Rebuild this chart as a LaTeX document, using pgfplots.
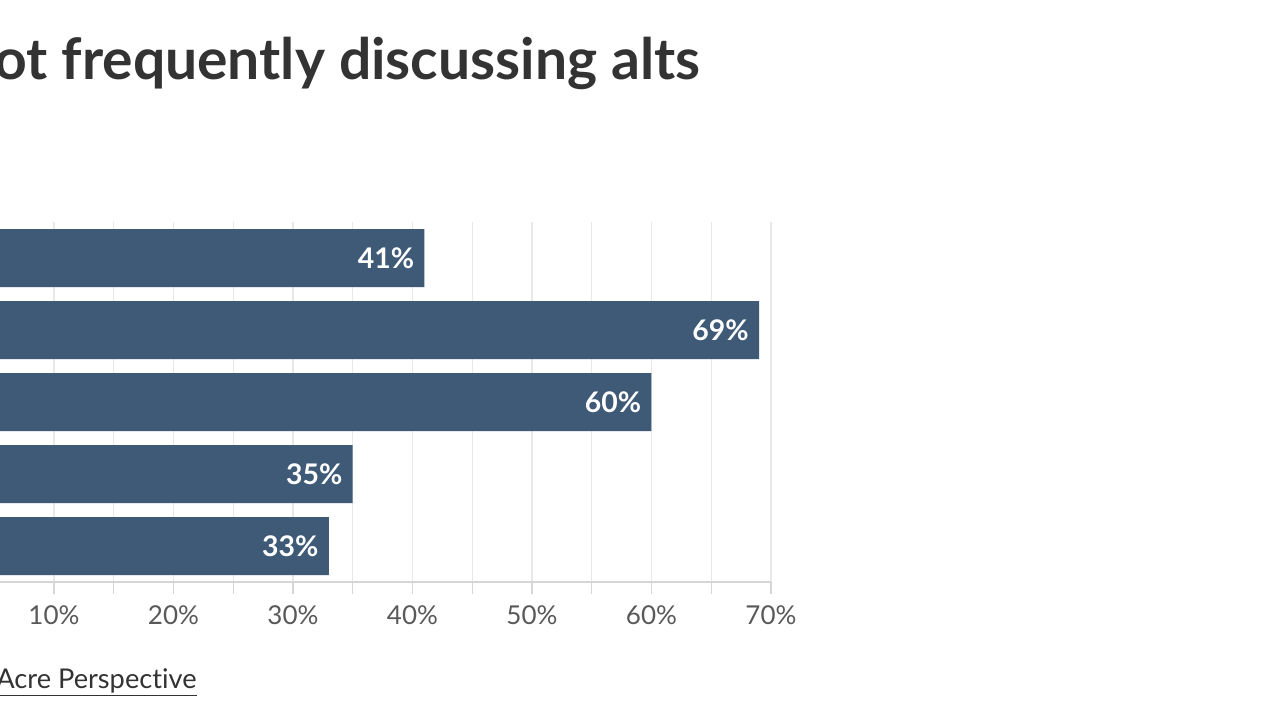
\documentclass[border=0pt]{standalone}
\usepackage{pgfplots}
\pgfplotsset{compat=1.18}
\usepackage{fontspec}
\setmainfont{Lato}[Ligatures=NoCommon]
\definecolor{barc}{HTML}{3E5A77}
\definecolor{gridc}{HTML}{E8E8E8}
\definecolor{tickmc}{HTML}{D6D6D6}
\definecolor{titlec}{HTML}{333333}
\definecolor{tickc}{HTML}{595959}
\begin{document}
\begin{tikzpicture}
\path[use as bounding box, clip] (0,0) rectangle (640pt,-360pt);
\fill[white] (0,0) rectangle (640pt,-360pt);
\node[anchor=base west, inner sep=0, font=\bfseries\fontsize{28.5}{30}\selectfont, text=titlec] at (-3pt,-39.5pt) {ot frequently discussing alts};
\begin{axis}[
  at={(-32.75pt,-291pt)}, anchor=south west,
  scale only axis, width=418.25pt, height=180pt,
  xmin=0, xmax=70, ymin=-0.5, ymax=4.5, y dir=reverse,
  xbar, bar width=29pt,
  axis x line*=bottom, axis y line=none,
  axis line style={tickmc, line width=0.6pt},
  x axis line style={-},
  ytick=\empty,
  xtick={10,20,...,70}, minor xtick={0,5,15,...,65},
  xticklabel={\pgfmathprintnumber{\tick}\%},
  /pgf/number format/assume math mode=true,
  xticklabel style={font=\fontsize{13}{15}\selectfont, text=tickc, yshift=-2.5pt},
  tick align=outside, major tick length=6pt, minor tick length=6pt,
  every tick/.style={tickmc, line width=0.6pt},
  xmajorgrids, xminorgrids,
  major grid style={gridc, line width=0.6pt},
  minor grid style={gridc, line width=0.6pt},
  point meta=x,
  nodes near coords={\pgfmathprintnumber{\pgfplotspointmeta}\%},
  nodes near coords style={anchor=east, inner sep=0pt, xshift=-5pt, text=white, font=\bfseries\fontsize{14.2}{16}\selectfont},
]
\addplot[fill=barc, draw=none] coordinates {(41,0) (69,1) (60,2) (35,3) (33,4)};
\end{axis}
\node[anchor=base east, inner sep=0, font=\fontsize{13.6}{15}\selectfont, text=titlec] at (98.5pt,-344pt) {\underline{Acre Perspective}};
\end{tikzpicture}
\end{document}
